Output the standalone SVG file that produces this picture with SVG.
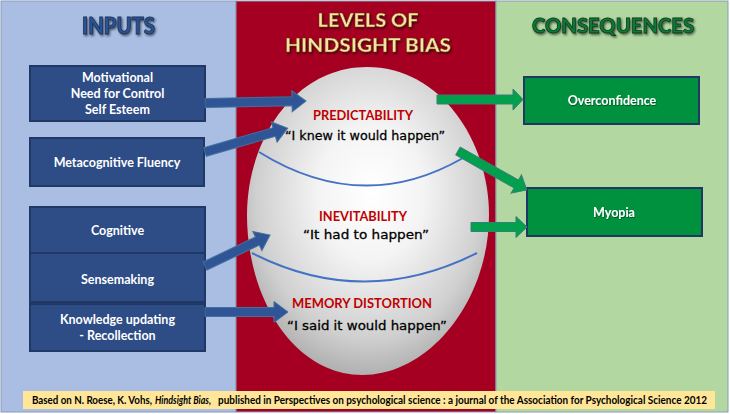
<svg xmlns="http://www.w3.org/2000/svg" width="730" height="414" viewBox="0 0 730 414">
<defs>
<radialGradient id="egg" cx="0.5" cy="0.42" r="0.62" fx="0.52" fy="0.4">
<stop offset="0" stop-color="#ffffff"/>
<stop offset="0.35" stop-color="#f4f4f4"/>
<stop offset="0.75" stop-color="#d0d0d0"/>
<stop offset="1" stop-color="#a6a6a6"/>
</radialGradient>
<filter id="sh" x="-10%" y="-30%" width="120%" height="160%">
<feDropShadow dx="1.2" dy="1.5" stdDeviation="0.8" flood-color="#000" flood-opacity="0.6"/>
</filter>
<filter id="tsh" x="-10%" y="-30%" width="120%" height="160%">
<feDropShadow dx="0.6" dy="0.8" stdDeviation="0.5" flood-color="#000" flood-opacity="0.5"/>
</filter>
</defs>
<style>
.panel{stroke:#8a9bb5;stroke-width:1}
.bbox{fill:#2e4c86;stroke:#1f3864;stroke-width:2}
.gbox{fill:#00913f;stroke:#1f3864;stroke-width:2}
.bt{font-family:Lato,"Liberation Sans",sans-serif;font-weight:700;font-size:12.5px;fill:#fff;text-anchor:middle}
.gt{font-family:Lato,"Liberation Sans",sans-serif;font-weight:700;font-size:12.5px;fill:#fff;text-anchor:middle;filter:url(#tsh)}
.title{font-family:Lato,"Liberation Sans",sans-serif;font-weight:900;text-anchor:middle;filter:url(#sh)}
.lvl{font-family:Lato,"Liberation Sans",sans-serif;font-weight:700;fill:#c00000;text-anchor:middle}
.q{font-family:"DejaVu Sans",sans-serif;font-size:13px;fill:#000;stroke:#000;stroke-width:0.3;text-anchor:middle}
.arc{fill:none;stroke:#4472c4;stroke-width:2}
.ba{fill:#2f5597;stroke:#41719c;stroke-width:1}
.ga{fill:#00a04c;stroke:#3b7d75;stroke-width:1}
.ft{font-family:Lato,"Liberation Sans",sans-serif;font-weight:700;font-size:10.5px;fill:#000}
</style>
<g id="panels">
<rect class="panel" x="1" y="1" width="235" height="411" fill="#aabee3"/>
<rect class="panel" x="236" y="1" width="260" height="411" fill="#a50021"/>
<rect class="panel" x="496" y="1" width="232" height="411" fill="#b3d7a0"/>
</g>
<g id="titles">
<text class="title" x="118.5" y="34" font-size="22" fill="#2a5492" stroke="#1a2f5a" stroke-width="0.8" textLength="73" lengthAdjust="spacingAndGlyphs">INPUTS</text>
<text class="title" x="368" y="27" font-size="19.5" fill="#f8e4a0" stroke="#5a3a10" stroke-width="0.4" textLength="101" lengthAdjust="spacingAndGlyphs">LEVELS OF</text>
<text class="title" x="368" y="52" font-size="19.5" fill="#f8e4a0" stroke="#5a3a10" stroke-width="0.4" textLength="166" lengthAdjust="spacingAndGlyphs">HINDSIGHT BIAS</text>
<text class="title" x="613" y="33" font-size="21" fill="#0b7a3a" stroke="#093a1c" stroke-width="0.8" textLength="162" lengthAdjust="spacingAndGlyphs">CONSEQUENCES</text>
</g>
<g id="egg-node">
<path d="M367,67 C440,67 489,140 489,215 C489,300 430,375 362,375 C295,375 247,300 247,215 C247,140 294,67 367,67 Z" fill="url(#egg)"/>
<path class="arc" d="M259,152 Q362,216 463,158"/>
<path class="arc" d="M252,253 Q364,310 477,253"/>
</g>
<g id="predictability">
<text class="lvl" x="363" y="120" font-size="12.5" textLength="100" lengthAdjust="spacingAndGlyphs">PREDICTABILITY</text>
<text class="q" x="365" y="140" textLength="160" lengthAdjust="spacingAndGlyphs">“I knew it would happen”</text>
</g>
<g id="inevitability">
<text class="lvl" x="363" y="221" font-size="12.5" textLength="88" lengthAdjust="spacingAndGlyphs">INEVITABILITY</text>
<text class="q" x="366" y="239" textLength="126" lengthAdjust="spacingAndGlyphs">“It had to happen”</text>
</g>
<g id="memory-distortion">
<text class="lvl" x="362" y="308" font-size="13.5" textLength="140" lengthAdjust="spacingAndGlyphs">MEMORY DISTORTION</text>
<text class="q" x="367" y="330" textLength="160" lengthAdjust="spacingAndGlyphs">“I said it would happen”</text>
</g>
<g id="motivational">
<rect class="bbox" x="30" y="66" width="175" height="55"/>
<text class="bt" x="117.5" y="82">Motivational</text>
<text class="bt" x="117.5" y="98">Need for Control</text>
<text class="bt" x="117.5" y="114">Self Esteem</text>
</g>
<g id="metacognitive">
<rect class="bbox" x="30" y="138" width="174" height="48"/>
<text class="bt" x="117" y="167">Metacognitive Fluency</text>
</g>
<g id="cognitive">
<rect class="bbox" x="30" y="207" width="175" height="46"/>
<text class="bt" x="117.5" y="235">Cognitive</text>
</g>
<g id="sensemaking">
<rect class="bbox" x="30" y="253" width="175" height="49"/>
<text class="bt" x="117.5" y="284">Sensemaking</text>
</g>
<g id="knowledge">
<rect class="bbox" x="30" y="304" width="175" height="47"/>
<text class="bt" x="117.5" y="324">Knowledge updating</text>
<text class="bt" x="117.5" y="340">- Recollection</text>
</g>
<g id="overconfidence">
<rect class="gbox" x="524" y="77" width="175" height="47"/>
<text class="gt" x="612" y="105">Overconfidence</text>
</g>
<g id="myopia">
<rect class="gbox" x="527" y="188" width="175" height="48"/>
<text class="gt" x="614" y="217">Myopia</text>
</g>
<g id="connectors">
<path class="ba" transform="translate(205,103) rotate(-1.1)" d="M0,-4.5 H87 V-10.5 L101,0 L87,10.5 V4.5 H0 Z"/>
<path class="ba" transform="translate(205,152) rotate(-16.1)" d="M0,-4.5 H72 V-10.5 L86,0 L72,10.5 V4.5 H0 Z"/>
<path class="ba" transform="translate(205,266) rotate(-25.5)" d="M0,-4.5 H58 V-10.5 L72,0 L58,10.5 V4.5 H0 Z"/>
<path class="ba" transform="translate(205,312)" d="M0,-4.5 H69 V-10.5 L83,0 L69,10.5 V4.5 H0 Z"/>
<path class="ga" transform="translate(437,99.5)" d="M0,-4.5 H76 V-10.5 L86,0 L76,10.5 V4.5 H0 Z"/>
<path class="ga" transform="translate(458,151) rotate(29.5)" d="M0,-4.5 H67 V-10.5 L79,0 L67,10.5 V4.5 H0 Z"/>
<path class="ga" transform="translate(471,227)" d="M0,-4.5 H45 V-10.5 L56,0 L45,10.5 V4.5 H0 Z"/>
</g>
<g id="footer">
<rect x="23" y="391" width="692" height="18" fill="#ffe699"/>
<text class="ft" x="32" y="403.5" textLength="120" lengthAdjust="spacingAndGlyphs">Based on N. Roese, K. Vohs,</text>
<text class="ft" x="155" y="403.5" font-style="italic" textLength="56" lengthAdjust="spacingAndGlyphs">Hindsight Bias,</text>
<text class="ft" x="218" y="403.5" textLength="489" lengthAdjust="spacingAndGlyphs">published in Perspectives on psychological science : a journal of the Association for Psychological Science 2012</text>
</g>
</svg>
